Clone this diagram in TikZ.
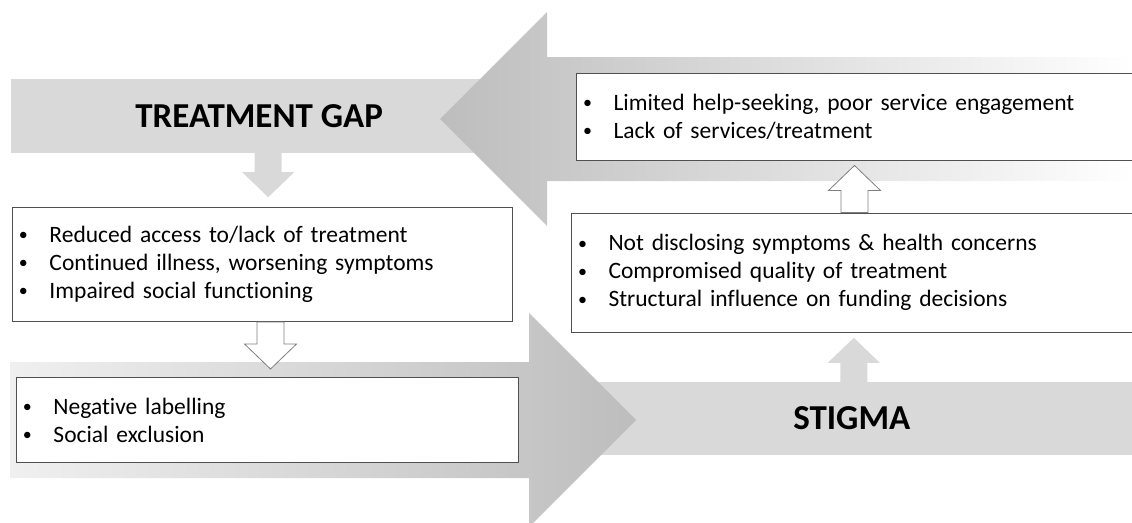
\documentclass[tikz,border=0pt]{standalone}
\usepackage{fontspec}
\setmainfont[Ligatures=CommonOff]{Carlito}
\usepackage{tikz}

\definecolor{bandgray}{HTML}{D9D9D9}
\definecolor{headgray}{HTML}{BDBDBD}
\definecolor{linegray}{HTML}{7F7F7F}
\definecolor{boxline}{HTML}{505050}

% block arrow: style, start, direction (1 down, -1 up), shaft length
\newcommand{\blockarrow}[4][]{%
\path[#1] #2 ++(-13.5,0) -- ++(0,{(#3)*#4}) -- ++(-12.5,0) -- ++(26,{(#3)*25})
  -- ++(26,{-(#3)*25}) -- ++(-12.5,0) -- ++(0,{-(#3)*#4}) -- cycle;}
\newcommand{\itm}[1]{\makebox[32pt][l]{\hspace{1.5pt}\raisebox{1.8pt}{\fontsize{18}{18}\selectfont\textbullet}}#1}

\begin{document}
\begin{tikzpicture}[x=1pt,y=-1pt,
band/.style={fill=bandgray,inner sep=0pt,font=\fontsize{35}{42}\selectfont\bfseries},
listbox/.style={draw=boxline,line width=1pt,fill=white,anchor=north west,
  align=left,inner xsep=5pt,inner ysep=0pt,font=\fontsize{23.5}{28}\selectfont},
solidarrow/.style={fill=bandgray},
hollowarrow/.style={draw=linegray,line width=0.8pt,fill=white}]
\useasboundingbox (0,0) rectangle (1132,522);

\node[band,anchor=west,minimum width=496pt,minimum height=74pt] (gap) at (11,116) {TREATMENT GAP};
\node[band,anchor=east,minimum width=564pt,minimum height=73pt] (stigma) at (1134,418.5) {STIGMA};

% the two big arrows
\path[left color=headgray,right color=white]
  (1134,57) -- (547,57) -- (547,12) -- (440,119) -- (547,226) -- (547,181) -- (1134,181) -- cycle;
\path[left color=white!94!black,right color=headgray]
  (10,362) -- (529,362) -- (529,313) -- (636,420) -- (529,527) -- (529,478) -- (10,478) -- cycle;

\blockarrow[solidarrow]{([xshift=9pt]gap.south)}{1}{19}
\blockarrow[solidarrow]{([xshift=2pt]stigma.north)}{-1}{19}

\node[listbox,text width=548pt,minimum height=87pt] (seek) at (576,73)
  {\itm{Limited help-seeking, poor service engagement}\\
   \itm{Lack of services/treatment}};
\node[listbox,text width=553pt,minimum height=119.5pt] (disclose) at (571,212.5)
  {\itm{Not disclosing symptoms \& health concerns}\\
   \itm{Compromised quality of treatment}\\
   \itm{Structural influence on funding decisions}};
\node[listbox,text width=490pt,minimum height=114pt] (access) at (12,207)
  {\itm{Reduced access to/lack of treatment}\\
   \itm{Continued illness, worsening symptoms}\\
   \itm{Impaired social functioning}};
\node[listbox,text width=492pt,minimum height=85pt] (label) at (16,377)
  {\itm{Negative labelling}\\
   \itm{Social exclusion}};

\blockarrow[hollowarrow]{([xshift=8pt]access.south)}{1}{22}
\blockarrow[hollowarrow]{([xshift=1.5pt]disclose.north)}{-1}{22}
\end{tikzpicture}
\end{document}
